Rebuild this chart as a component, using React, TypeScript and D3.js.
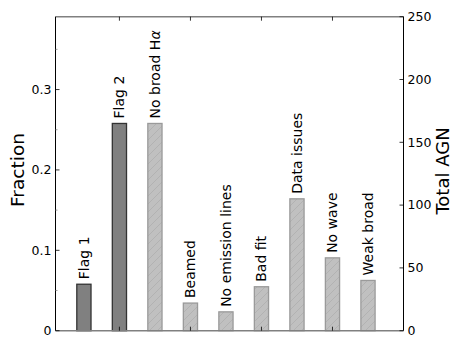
import React from "react";
import * as d3 from "d3";

const categories = ["Flag 1", "Flag 2", "No broad H", "Beamed", "No emission lines", "Bad fit", "Data issues", "No wave", "Weak broad"];
const greekSuffix = ["", "", "α", "", "", "", "", "", ""];
const counts = [37, 165, 165, 22, 15, 35, 105, 58, 40];
const isFlag = [true, true, false, false, false, false, false, false, false];
const totalAGN = 640;
const rightTicks = [0, 50, 100, 150, 200, 250];
const leftMajor = [0, 0.1, 0.2, 0.3];
const leftMinor = [0.05, 0.15, 0.25, 0.35];
const xTicks = [1, 3, 5, 7];

const W = 463, H = 348;
const L = 55.5, R = 403.5, T = 16.7, B = 330.7;

export default function App() {
  const x = d3.scaleLinear().domain([-0.8, 9]).range([L, R]);
  const yc = d3.scaleLinear().domain([0, 250]).range([B, T]);
  const yf = d3.scaleLinear().domain([0, 250 / totalAGN]).range([B, T]);
  const bw = x(0.4) - x(0);
  const font = "DejaVu Sans, sans-serif";
  return (
    <svg width={W} height={H} style={{ position: "absolute", left: 0, top: 0, background: "#fff" }} fontFamily={font}>
      <defs>
        <pattern id="hatch" patternUnits="userSpaceOnUse" width={8} height={8}>
          <rect width={8} height={8} fill="#c0c0c0" />
          <path d="M-2,2 L2,-2 M0,8 L8,0 M6,10 L10,6" stroke="#acacac" strokeWidth={0.7} />
        </pattern>
      </defs>
      {counts.map((c, i) => (
        <rect key={"b" + i}
          x={x(i) - bw / 2} y={yc(c)} width={bw} height={yc(0) - yc(c)}
          fill={isFlag[i] ? "#808080" : "url(#hatch)"}
          stroke={isFlag[i] ? "#333333" : "#9a9a9a"} strokeWidth={1.3} />
      ))}
      {counts.map((c, i) => (
        <text key={"t" + i} transform={`translate(${x(i)},${yc(c) - 5}) rotate(-90)`}
          fontSize={14} dy="0.35em" textAnchor="start" fill="#000">
          {categories[i]}
          {greekSuffix[i] ? <tspan fontStyle="italic">{greekSuffix[i]}</tspan> : null}
        </text>
      ))}
      {/* spines */}
      <line x1={L} x2={R} y1={T} y2={T} stroke="#808080" strokeWidth={1.5} />
      <line x1={L} x2={R} y1={B} y2={B} stroke="#808080" strokeWidth={1.5} />
      <line x1={L} x2={L} y1={T} y2={B} stroke="#000" strokeWidth={1} />
      <line x1={R} x2={R} y1={T} y2={B} stroke="#000" strokeWidth={1} />
      {/* x ticks */}
      {xTicks.map((t) => (
        <g key={"x" + t}>
          <line x1={x(t)} x2={x(t)} y1={B} y2={B - 4} stroke="#000" strokeWidth={0.8} />
          <line x1={x(t)} x2={x(t)} y1={T} y2={T + 4} stroke="#000" strokeWidth={0.8} />
        </g>
      ))}
      {/* left ticks */}
      {leftMajor.map((t) => (
        <g key={"lm" + t}>
          <line x1={L} x2={L + 4} y1={yf(t)} y2={yf(t)} stroke="#000" strokeWidth={0.8} />
          <text x={L - 4} y={yf(t)} dy="0.35em" textAnchor="end" fontSize={12.5}>{t === 0 ? "0" : t.toFixed(1)}</text>
        </g>
      ))}
      {leftMinor.map((t) => (
        <line key={"ln" + t} x1={L} x2={L + 2} y1={yf(t)} y2={yf(t)} stroke="#888" strokeWidth={0.8} />
      ))}
      {rightTicks.map((t) => (
        <g key={"r" + t}>
          <line x1={R} x2={R - 4} y1={yc(t)} y2={yc(t)} stroke="#000" strokeWidth={0.8} />
          <text x={R + 4} y={yc(t)} dy="0.35em" textAnchor="start" fontSize={12.5}>{t}</text>
        </g>
      ))}
      <text transform={`translate(${18},${170}) rotate(-90)`} textAnchor="middle" dy="0.35em" fontSize={18.5}>Fraction</text>
      <text transform={`translate(${443},${171}) rotate(-90)`} textAnchor="middle" dy="0.35em" fontSize={18}>Total AGN</text>
    </svg>
  );
}
